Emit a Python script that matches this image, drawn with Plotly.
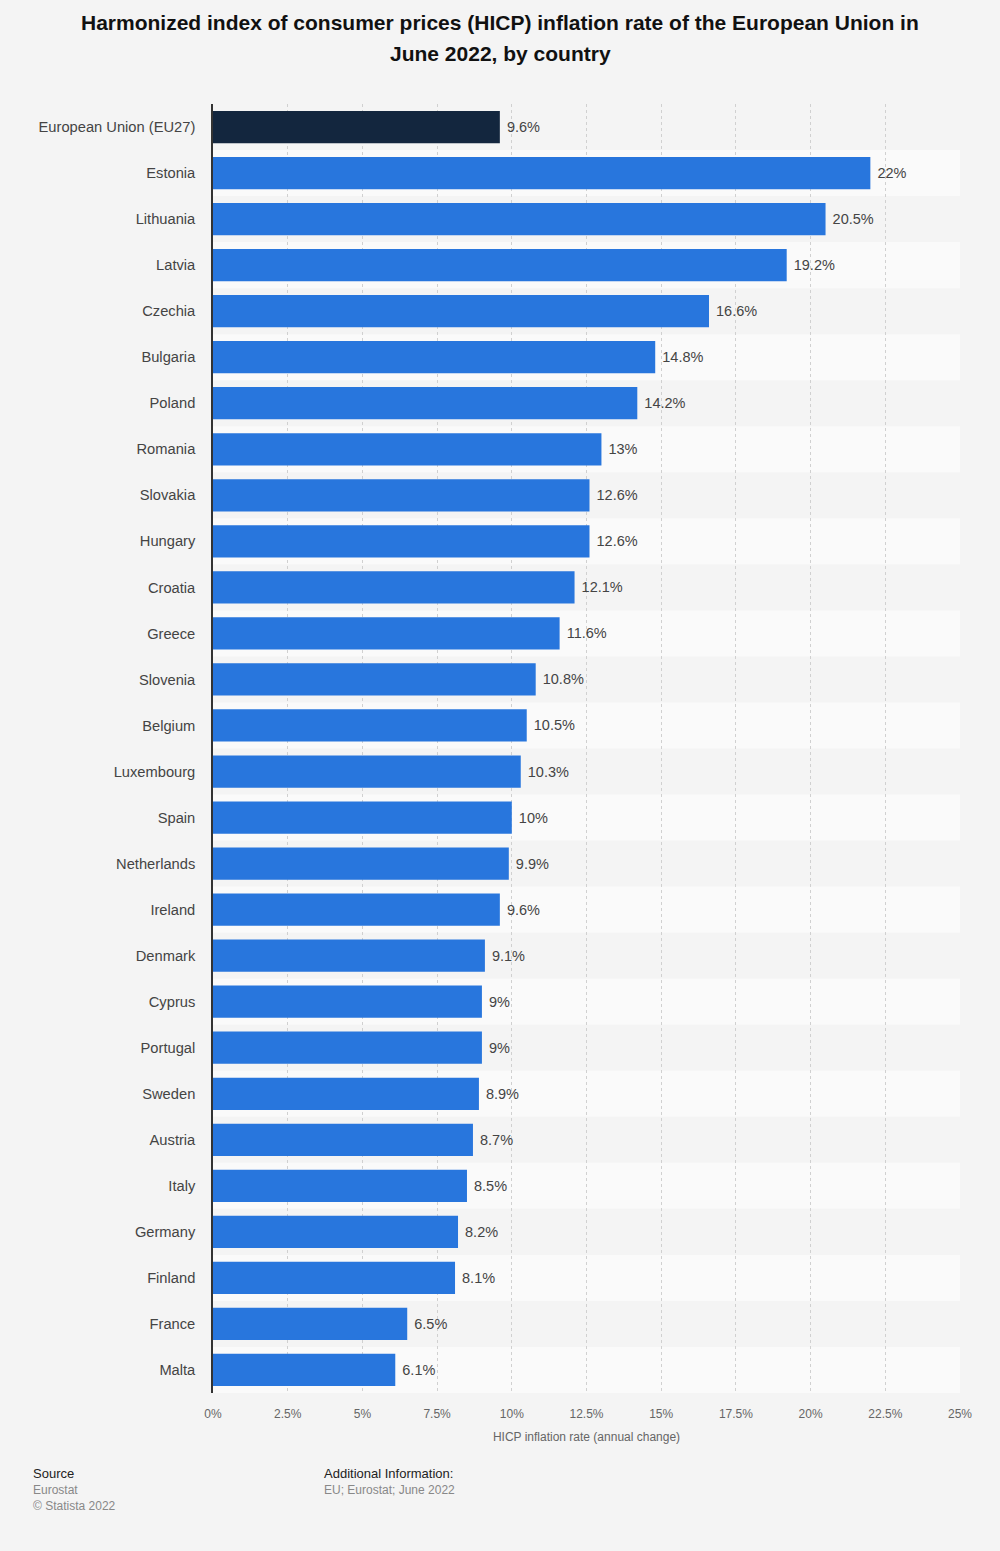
import plotly.graph_objects as go

# --- data ---
countries = [
    "European Union (EU27)", "Estonia", "Lithuania", "Latvia", "Czechia", "Bulgaria",
    "Poland", "Romania", "Slovakia", "Hungary", "Croatia", "Greece", "Slovenia",
    "Belgium", "Luxembourg", "Spain", "Netherlands", "Ireland", "Denmark", "Cyprus",
    "Portugal", "Sweden", "Austria", "Italy", "Germany", "Finland", "France", "Malta",
]
rates = [
    9.6, 22, 20.5, 19.2, 16.6, 14.8, 14.2, 13, 12.6, 12.6, 12.1, 11.6, 10.8,
    10.5, 10.3, 10, 9.9, 9.6, 9.1, 9, 9, 8.9, 8.7, 8.5, 8.2, 8.1, 6.5, 6.1,
]
x_ticks = [0, 2.5, 5, 7.5, 10, 12.5, 15, 17.5, 20, 22.5, 25]
x_tick_text = [f"{t:g}%" for t in x_ticks]

FONT = "Liberation Sans"
BG = "#f4f4f4"
W, H = 1000, 1551
M_L, M_R, M_T, M_B = 213, 40, 104, 158
colors = ["#13263e"] + ["#2876dd"] * (len(countries) - 1)


def py(pixel_y):
    # page pixel row -> paper y
    return (H - M_B - pixel_y) / (H - M_T - M_B)


def px(pixel_x):
    return (pixel_x - M_L) / (W - M_L - M_R)


fig = go.Figure()
fig.add_trace(go.Bar(
    x=rates,
    y=countries,
    orientation="h",
    marker=dict(color=colors, line=dict(width=0)),
    text=[f" {v:g}%" for v in rates],
    textposition="outside",
    textfont=dict(family=FONT, size=14.5, color="#444444"),
    cliponaxis=False,
    width=0.7,
    hoverinfo="skip",
))

# alternating row stripes
for i in range(len(countries)):
    if i % 2 == 1:
        fig.add_shape(type="rect", xref="x", yref="y",
                      x0=0, x1=25, y0=i - 0.5, y1=i + 0.5,
                      fillcolor="#fafafa", line=dict(width=0), layer="below")

fig.update_layout(
    width=W,
    height=H,
    paper_bgcolor=BG,
    plot_bgcolor=BG,
    margin=dict(l=M_L, r=M_R, t=M_T, b=M_B),
    showlegend=False,
    font=dict(family=FONT),
)

fig.update_xaxes(
    range=[0, 25],
    tickvals=x_ticks,
    ticktext=x_tick_text,
    showgrid=True,
    gridcolor="#d0d0d0",
    griddash="dot",
    gridwidth=1,
    zeroline=False,
    tickfont=dict(family=FONT, size=12, color="#666666"),
    ticks="outside", ticklen=10, tickcolor="rgba(0,0,0,0)",
    title=dict(text="HICP inflation rate (annual change)",
               font=dict(family=FONT, size=12, color="#666666"), standoff=12),
    fixedrange=True,
)
fig.update_yaxes(
    autorange="reversed",
    showline=True,
    linecolor="#333333",
    linewidth=1.5,
    showgrid=False,
    ticks="outside", ticklen=13, tickcolor="rgba(0,0,0,0)",
    tickfont=dict(family=FONT, size=14.7, color="#444444"),
)

# title, two lines
title_lines = [
    "Harmonized index of consumer prices (HICP) inflation rate of the European Union in",
    "June 2022, by country",
]
for ty, line in zip([22, 54], title_lines):
    fig.add_annotation(
        xref="paper", yref="paper", x=px(500), y=py(ty),
        xanchor="center", yanchor="middle", text=f"<b>{line}</b>",
        showarrow=False, font=dict(family=FONT, size=21, color="#111111"),
    )

# footer
footer = [
    (31, 1473, "Source", 13, "#222222"),
    (31, 1490, "Eurostat", 12, "#888888"),
    (31, 1506, "© Statista 2022", 12, "#888888"),
    (322, 1473, "Additional Information:", 13, "#222222"),
    (322, 1490, "EU; Eurostat; June 2022", 12, "#888888"),
]
for fx, fy, txt, size, col in footer:
    fig.add_annotation(
        xref="paper", yref="paper", x=px(fx), y=py(fy),
        xanchor="left", yanchor="middle",
        text=txt, showarrow=False,
        font=dict(family=FONT, size=size, color=col),
    )

fig.write_html("out.html", config={"displayModeBar": False},
               post_script="document.body.style.margin='0';")
